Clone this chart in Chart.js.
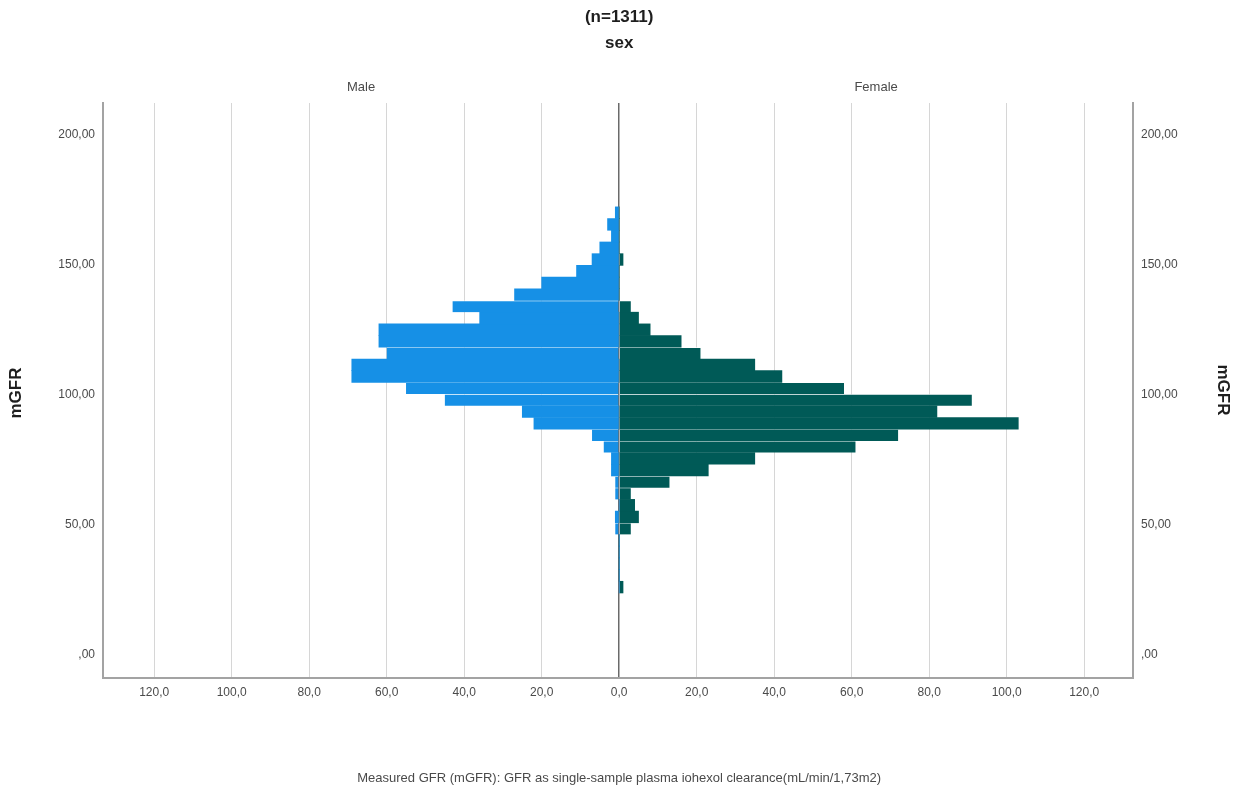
<!DOCTYPE html>
<html>
<head>
<meta charset="utf-8">
<script src="https://cdn.jsdelivr.net/npm/chart.js@4/dist/chart.umd.min.js"></script>
<style>
  body { margin: 0; background: #fff; }
  #wrap { width: 1237px; height: 800px; }
</style>
</head>
<body>
<div id="wrap"><canvas id="pyramid" width="1237" height="800"></canvas></div>
<script>
// mGFR bin midpoints (bottom to top)
const binMid = [26.1, 30.6, 35.1, 39.6, 44.1, 48.6, 53.1, 57.6, 62.1, 66.6, 71.1,
  75.6, 80.1, 84.6, 89.1, 93.6, 98.1, 102.6, 107.1, 111.6, 116.1, 120.6, 125.1,
  129.6, 134.1, 138.6, 143.1, 147.6, 152.1, 156.6, 161.1, 165.6, 170.1];

// counts per bin, same order as binMid
const maleCounts = [0, 0, 0, 0, 0, 1, 1, 0, 1, 1, 2, 2, 4, 7, 22, 25, 45, 55,
  69, 69, 60, 62, 62, 36, 43, 27, 20, 11, 7, 5, 2, 3, 1];
const femaleCounts = [1, 0, 0, 0, 0, 3, 5, 4, 3, 13, 23, 35, 61, 72, 103, 82, 91,
  58, 42, 35, 21, 16, 8, 5, 3, 0, 0, 0, 1, 0, 0, 0, 0];

const yTicks = [0, 50, 100, 150, 200];
const xTicks = [-120, -100, -80, -60, -40, -20, 0, 20, 40, 60, 80, 100, 120];

// bins whose upper edge shows a thin light seam in the original
const seamBins = [5, 8, 9, 12, 13, 16, 17, 20, 24];

const COLORS = {
    male: '#1690e6',
    female: '#005a57',
    seam: 'rgba(255, 255, 255, 0.65)',
    axis: '#a3a3a3',
    grid: '#d6d6d6',
    zero: '#6a6a6a',
    tick: '#4a4a4a',
    title: '#1e1e1e'
};
const FONT = '"Liberation Sans", Arial, sans-serif';

const fmtY = v => v === 0 ? ',00' : v.toFixed(2).replace('.', ',');
const fmtX = v => Math.abs(v).toFixed(1).replace('.', ',');

// header, panel labels, axis titles
const textPlugin = {
    id: 'pyramidText',
    afterDraw(chart) {
        const ctx = chart.ctx;
        const area = chart.chartArea;
        const mid = chart.scales.x.getPixelForValue(0);
        ctx.save();
        ctx.fillStyle = COLORS.title;
        ctx.textAlign = 'center';
        ctx.textBaseline = 'middle';
        ctx.font = 'bold 17px ' + FONT;
        ctx.fillText('(n=1311)', mid, 17);
        ctx.fillText('sex', mid, 43);

        ctx.fillStyle = COLORS.tick;
        ctx.font = '13px ' + FONT;
        ctx.fillText('Male', (area.left + mid) / 2, 87);
        ctx.fillText('Female', (mid + area.right) / 2, 87);
        ctx.fillText('Measured GFR (mGFR): GFR as single-sample plasma iohexol clearance(mL/min/1,73m2)', mid, 778);

        ctx.fillStyle = COLORS.title;
        ctx.font = 'bold 17px ' + FONT;
        ctx.save();
        ctx.translate(16, 393);
        ctx.rotate(-Math.PI / 2);
        ctx.fillText('mGFR', 0, 0);
        ctx.restore();
        ctx.save();
        ctx.translate(1223, 390);
        ctx.rotate(Math.PI / 2);
        ctx.fillText('mGFR', 0, 0);
        ctx.restore();
        ctx.restore();
    }
};

const yAxisBase = {
    type: 'linear',
    min: -8.85,
    max: 212.3,
    offset: false,
    afterBuildTicks: scale => { scale.ticks = yTicks.map(v => ({ value: v })); },
    grid: { display: false, drawTicks: false, offset: false },
    border: { display: true, color: COLORS.axis, width: 2 },
    ticks: {
        color: COLORS.tick,
        font: { family: FONT, size: 12 },
        padding: 8,
        callback: v => fmtY(v)
    }
};

const seamWidth = c => seamBins.includes(c.dataIndex)
    ? { top: 1, right: 0, bottom: 0, left: 0 }
    : 0;

new Chart(document.getElementById('pyramid').getContext('2d'), {
    type: 'bar',
    data: {
        datasets: [
            {
                label: 'Male',
                data: binMid.map((m, i) => ({ x: -maleCounts[i], y: m })),
                backgroundColor: COLORS.male,
                borderColor: COLORS.seam,
                borderWidth: seamWidth,
                borderSkipped: false,
                yAxisID: 'y'
            },
            {
                label: 'Female',
                data: binMid.map((m, i) => ({ x: femaleCounts[i], y: m })),
                backgroundColor: COLORS.female,
                borderColor: COLORS.seam,
                borderWidth: seamWidth,
                borderSkipped: false,
                yAxisID: 'y'
            }
        ]
    },
    options: {
        indexAxis: 'y',
        responsive: false,
        animation: false,
        grouped: false,
        categoryPercentage: 1,
        barPercentage: 1,
        layout: { padding: { top: 103, left: 0, right: 0, bottom: 0 } },
        plugins: {
            legend: { display: false },
            tooltip: { enabled: false }
        },
        scales: {
            x: {
                type: 'linear',
                min: -133.2,
                max: 132.6,
                afterBuildTicks: scale => { scale.ticks = xTicks.map(v => ({ value: v })); },
                afterFit: scale => { scale.height = 122; },
                grid: {
                    drawTicks: false,
                    color: c => c.tick && c.tick.value === 0 ? COLORS.zero : COLORS.grid,
                    lineWidth: c => c.tick && c.tick.value === 0 ? 1.5 : 1
                },
                border: { display: true, color: COLORS.axis, width: 2 },
                ticks: {
                    color: COLORS.tick,
                    font: { family: FONT, size: 12 },
                    padding: 7,
                    maxRotation: 0,
                    callback: v => fmtX(v)
                }
            },
            y: Object.assign({}, yAxisBase, {
                position: 'left',
                afterFit: scale => { scale.width = 103; }
            }),
            y2: Object.assign({}, yAxisBase, {
                position: 'right',
                afterFit: scale => { scale.width = 104; }
            })
        }
    },
    plugins: [textPlugin]
});
</script>
</body>
</html>
